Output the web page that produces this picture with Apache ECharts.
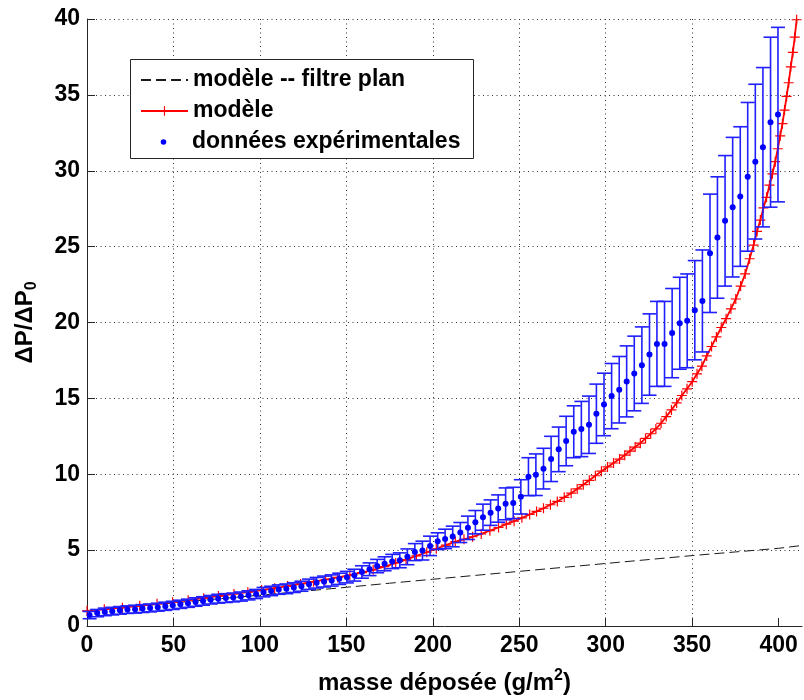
<!DOCTYPE html>
<html>
<head>
<meta charset="utf-8">
<script src="https://cdn.jsdelivr.net/npm/echarts@6/dist/echarts.min.js"></script>
<style>html,body{margin:0;padding:0;background:#fff}#c{width:804px;height:700px}</style>
</head>
<body>
<div id="c"></div>
<script>
// ---- data ----
const xTicks = [0, 50, 100, 150, 200, 250, 300, 350, 400];
const yTicks = [0, 5, 10, 15, 20, 25, 30, 35, 40];

// black dashed model (planar filter)
const planX = [0, 25, 50, 75, 100, 125, 150, 175, 200, 225, 250, 275, 300, 325, 350, 375, 400, 413];
const planY = [1.0, 1.26, 1.52, 1.78, 2.03, 2.29, 2.55, 2.82, 3.08, 3.34, 3.6, 3.86, 4.12, 4.38, 4.64, 4.88, 5.12, 5.3];

// red model with + markers
const modelX = [0, 10, 20.5, 30.5, 40.5, 49.5, 58.5, 67.5, 76, 85, 93, 101, 108.5, 116, 123.5, 131, 138, 145, 152, 159,
  165.5, 172, 178.5, 184.5, 190.5, 196.5, 202, 207.5, 213, 218, 223, 228, 233, 238, 242.5, 247, 251.5, 256, 260, 264,
  268, 272, 276, 280, 283.5, 287, 290.5, 294, 297.5, 301, 304.5, 308, 311, 314, 317, 320, 323, 326, 329, 332,
  335, 338, 341, 344, 347, 350, 352.8, 355.6, 358.4, 361.2, 364, 366.8, 369.6, 372.4, 375.2, 378, 380.6, 383.2, 385.5, 387.5,
  389.4, 391.2, 393, 394.7, 396.4, 398, 399.5, 400.9, 402.2, 403.4, 404.6, 405.8, 407, 408.2, 409.3, 410.4];
const modelY = [1.00, 1.10, 1.21, 1.33, 1.46, 1.57, 1.70, 1.83, 1.97, 2.11, 2.23, 2.37, 2.49, 2.63, 2.77, 2.92, 3.06, 3.20, 3.35, 3.52,
  3.70, 3.91, 4.15, 4.38, 4.62, 4.86, 5.09, 5.33, 5.56, 5.71, 5.88, 6.07, 6.28, 6.49, 6.71, 6.91, 7.13, 7.35, 7.55, 7.76,
  7.99, 8.21, 8.48, 8.75, 9.03, 9.31, 9.60, 9.90, 10.20, 10.48, 10.74, 11.00, 11.26, 11.53, 11.79, 12.05, 12.36, 12.67, 12.99, 13.36,
  13.80, 14.24, 14.70, 15.19, 15.63, 16.10, 16.62, 17.12, 17.80, 18.42, 19.05, 19.67, 20.25, 20.90, 21.55, 22.40, 23.2, 24.2, 25.1, 26.0,
  26.75, 27.55, 28.25, 29.05, 29.8, 30.6, 31.45, 32.3, 33.1, 34.0, 34.9, 35.8, 36.85, 37.8, 38.8, 39.95];

// experimental data: mass, mean value, half error bar
const expX = [1.5, 5.9, 10.3, 14.6, 19.0, 23.4, 27.8, 32.1, 36.5, 40.9, 45.3, 49.6, 54.0, 58.4, 62.8, 67.1, 71.5, 75.9, 80.3, 84.6,
  89.0, 93.4, 97.8, 102.1, 106.5, 110.9, 115.3, 119.6, 124.0, 128.4, 132.8, 137.1, 141.5, 145.9, 150.3, 154.6, 159.0, 163.4, 167.8, 172.1,
  176.5, 180.9, 185.3, 189.6, 194.0, 198.4, 202.8, 207.1, 211.5, 215.9, 220.3, 224.6, 229.0, 233.4, 237.8, 242.1, 246.5, 250.9, 255.3, 259.6,
  264.0, 268.4, 272.8, 277.1, 281.5, 285.9, 290.3, 294.6, 299.0, 303.4, 307.8, 312.1, 316.5, 320.9, 325.3, 329.6, 334.0, 338.4, 342.8, 347.1,
  351.5, 355.9, 360.3, 364.6, 369.0, 373.4, 377.8, 382.1, 386.5, 390.9, 395.3, 399.6];
const expY = [0.72, 0.85, 0.93, 0.98, 1.03, 1.08, 1.11, 1.15, 1.19, 1.24, 1.30, 1.36, 1.43, 1.50, 1.58, 1.65, 1.73, 1.80, 1.84, 1.88,
  1.94, 2.02, 2.11, 2.23, 2.31, 2.40, 2.45, 2.53, 2.62, 2.75, 2.85, 2.93, 3.00, 3.11, 3.22, 3.35, 3.56, 3.74, 3.95, 4.10,
  4.25, 4.33, 4.56, 4.87, 4.97, 5.28, 5.59, 5.74, 5.90, 6.16, 6.47, 6.84, 7.17, 7.47, 7.74, 8.05, 8.11, 8.51, 9.84, 9.97,
  10.37, 11.01, 11.64, 12.19, 12.80, 12.98, 13.26, 13.99, 14.60, 15.15, 15.57, 16.12, 16.64, 17.19, 17.89, 18.59, 18.59, 19.30, 19.95, 20.11,
  20.81, 21.42, 24.56, 25.6, 26.7, 27.6, 28.3, 29.6, 30.6, 31.55, 33.2, 33.7];
const expErr = [0.24, 0.24, 0.25, 0.25, 0.25, 0.25, 0.26, 0.26, 0.26, 0.26, 0.27, 0.27, 0.27, 0.27, 0.28, 0.28, 0.28, 0.29, 0.29, 0.29,
  0.30, 0.30, 0.30, 0.31, 0.31, 0.31, 0.32, 0.32, 0.33, 0.34, 0.35, 0.36, 0.37, 0.37, 0.38, 0.39, 0.41, 0.42, 0.44, 0.46,
  0.47, 0.49, 0.52, 0.56, 0.62, 0.64, 0.55, 0.64, 0.68, 0.66, 0.77, 0.77, 0.86, 0.84, 0.90, 1.05, 1.03, 1.13, 1.25, 1.37,
  1.34, 1.49, 1.47, 1.63, 1.71, 1.82, 1.89, 1.95, 2.06, 2.15, 2.19, 2.34, 2.46, 2.52, 2.68, 2.80, 2.80, 2.94, 3.03, 3.09,
  3.27, 3.36, 3.90, 4.0, 4.3, 4.6, 4.6, 4.9, 5.1, 5.25, 5.6, 5.75];

const names = ['modèle -- filtre plan', 'modèle', 'données expérimentales'];

// ---- chart ----
const FONT = "'Liberation Sans', Arial, Helvetica, sans-serif";
const planData = planX.map((x, i) => [x, planY[i]]);
const modelData = modelX.map((x, i) => [x, modelY[i]]);
const expData = expX.map((x, i) => [x, expY[i]]);
const errData = expX.map((x, i) => [x, expY[i], expErr[i]]);

const plusPath = 'path://M4.4,0H5.6V10H4.4ZM0,4.4H10V5.6H0Z';
const legendText = {fontSize: 23, fontWeight: 'bold', color: '#000', fontFamily: FONT, lineHeight: 31};

const chart = echarts.init(document.getElementById('c'), null, {renderer: 'canvas'});
chart.setOption({
  animation: false,
  backgroundColor: '#fff',
  textStyle: {fontFamily: FONT},
  grid: {left: 87, top: 19, width: 715, height: 608, containLabel: false},
  xAxis: {
    type: 'value', min: 0, max: 413.5, interval: 50,
    name: '{t|masse déposée (g/m}{sup|2}{t|)}',
    nameLocation: 'middle', nameGap: 42,
    nameTextStyle: {
      rich: {
        t: {fontSize: 24, fontWeight: 'bold', color: '#000', fontFamily: FONT, lineHeight: 30, verticalAlign: 'middle'},
        sup: {fontSize: 16, fontWeight: 'bold', color: '#000', fontFamily: FONT, lineHeight: 16, verticalAlign: 'top'}
      }
    },
    axisLine: {show: true, onZero: false, lineStyle: {color: '#262626', width: 1}},
    axisTick: {show: true, inside: true, length: 8, customValues: xTicks, lineStyle: {color: '#262626'}},
    axisLabel: {customValues: xTicks, margin: 8, fontSize: 23, fontWeight: 'bold', color: '#000', fontFamily: FONT},
    splitLine: {show: true, showMaxLine: false, lineStyle: {color: '#333', width: 1, type: [1, 3.5]}}
  },
  yAxis: {
    type: 'value', min: 0, max: 40, interval: 5,
    name: '{t|ΔP/ΔP}{sub|0}',
    nameLocation: 'middle', nameGap: 47,
    nameTextStyle: {
      rich: {
        t: {fontSize: 24, fontWeight: 'bold', color: '#000', fontFamily: FONT, lineHeight: 30, verticalAlign: 'middle'},
        sub: {fontSize: 16, fontWeight: 'bold', color: '#000', fontFamily: FONT, lineHeight: 16, verticalAlign: 'bottom'}
      }
    },
    axisLine: {show: true, onZero: false, lineStyle: {color: '#262626', width: 1}},
    axisTick: {show: true, inside: true, length: 8, lineStyle: {color: '#262626'}},
    axisLabel: {margin: 7, fontSize: 23, fontWeight: 'bold', color: '#000', fontFamily: FONT},
    splitLine: {show: true, lineStyle: {color: '#333', width: 1, type: [1, 3.5]}}
  },
  legend: [
    {
      data: [names[0], names[1]], orient: 'vertical', left: 140, top: 64.5, padding: 0,
      itemWidth: 47, itemHeight: 12, itemGap: 0, z: 6,
      textStyle: legendText, selectedMode: false
    },
    {
      data: [names[2]], orient: 'vertical', left: 140, top: 126.5, padding: 0,
      itemWidth: 47, itemHeight: 7, itemGap: 0, z: 6,
      textStyle: legendText, selectedMode: false
    }
  ],
  graphic: [{
    type: 'rect', left: 130, top: 59, z: 5,
    shape: {width: 343, height: 99},
    style: {fill: '#fff', stroke: '#262626', lineWidth: 1}
  }],
  series: [
    {
      name: names[0], type: 'line', data: planData, symbol: 'none', z: 2,
      lineStyle: {color: '#1a1a1a', width: 1, type: [10, 5]},
      itemStyle: {color: '#1a1a1a', opacity: 0}
    },
    {
      name: names[1], type: 'line', data: modelData, symbol: plusPath, symbolSize: 10, z: 3,
      showSymbol: true, showAllSymbol: true,
      lineStyle: {color: '#ff0000', width: 1.8},
      itemStyle: {color: '#ff0000'}
    },
    {
      name: 'barres', type: 'custom', data: errData, z: 4,
      encode: {x: 0, y: 1},
      renderItem: function (params, api) {
        const x = api.value(0), y = api.value(1), e = api.value(2);
        const top = api.coord([x, y + e]);
        const bot = api.coord([x, y - e]);
        const hw = 7;
        const st = {stroke: '#1f1fff', lineWidth: 1.6, fill: null};
        return {
          type: 'group',
          children: [
            {type: 'line', shape: {x1: top[0], y1: top[1], x2: bot[0], y2: bot[1]}, style: st},
            {type: 'line', shape: {x1: top[0] - hw, y1: top[1], x2: top[0] + hw, y2: top[1]}, style: st},
            {type: 'line', shape: {x1: bot[0] - hw, y1: bot[1], x2: bot[0] + hw, y2: bot[1]}, style: st}
          ]
        };
      }
    },
    {
      name: names[2], type: 'line', data: expData, symbol: 'circle', symbolSize: 6, z: 5,
      showSymbol: true, showAllSymbol: true,
      lineStyle: {width: 0, opacity: 0},
      itemStyle: {color: '#0000ff'}
    }
  ]
});
</script>
</body>
</html>
